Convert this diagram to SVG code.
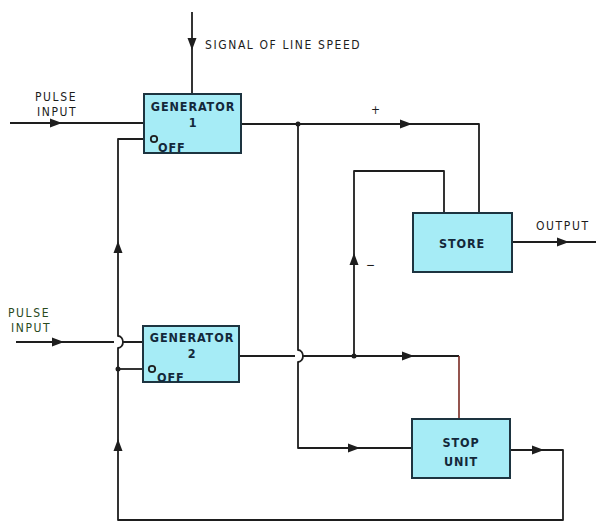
<svg xmlns="http://www.w3.org/2000/svg" width="596" height="524" viewBox="0 0 596 524">
<style>
.ln{fill:none;stroke:#1e1e1e;stroke-width:1.8;stroke-linejoin:round}
.box{fill:#a6ecf6;stroke:#1d3440;stroke-width:2}
.t{font-family:"DejaVu Sans Condensed","DejaVu Sans",sans-serif;font-stretch:condensed;font-size:12px;fill:#1c1c1c;letter-spacing:1.6px}
.bt{font-family:"DejaVu Sans Condensed","DejaVu Sans",sans-serif;font-stretch:condensed;font-weight:bold;font-size:12.5px;fill:#13283a;text-anchor:middle;letter-spacing:0.9px}
.ah{fill:#1e1e1e}
</style>
<defs>
<path id="ar" d="M-6,-4.5 L6,0 L-6,4.5 Z" class="ah"/>
</defs>
<rect width="596" height="524" fill="#fff"/>
<g id="connectors">
<path class="ln" d="M192,12 V94"/>
<use href="#ar" transform="translate(192,44) rotate(90)"/>
<path class="ln" d="M10,123 H144"/>
<use href="#ar" transform="translate(56,123)"/>
<path class="ln" d="M151,139 H118 V336 A5,6 0 0 1 118,348 V520 H563 V450 H510"/>
<use href="#ar" transform="translate(118,247) rotate(-90)"/>
<use href="#ar" transform="translate(118,445) rotate(-90)"/>
<use href="#ar" transform="translate(538,450)"/>
<path class="ln" d="M16,342 H114 M123,342 H143"/>
<use href="#ar" transform="translate(58,342)"/>
<path class="ln" d="M118,369 H149"/>
<circle cx="118" cy="369" r="2.5" class="ah"/>
<path class="ln" d="M241,124 H479 V213"/>
<use href="#ar" transform="translate(406,124)"/>
<circle cx="298" cy="124" r="2.5" class="ah"/>
<path class="ln" d="M298,124 V350 A5,6 0 0 1 298,362 V448 H412"/>
<use href="#ar" transform="translate(354,448)"/>
<path class="ln" d="M239,356 H295 M302,356 H459"/>
<path fill="none" stroke="#7a2a22" stroke-width="1.6" d="M459,356 V419"/>
<use href="#ar" transform="translate(408,356)"/>
<circle cx="354" cy="356" r="2.5" class="ah"/>
<path class="ln" d="M354,356 V171 H444 V213"/>
<use href="#ar" transform="translate(354,259) rotate(-90)"/>
<path class="ln" d="M512,242 H596"/>
<use href="#ar" transform="translate(563,242)"/>
</g>
<g id="gen1">
<rect class="box" x="144" y="94" width="97" height="59"/>
<text class="bt" x="193" y="111">GENERATOR</text>
<text class="bt" x="193" y="127">1</text>
<circle cx="154" cy="139" r="3.2" fill="#a6ecf6" stroke="#1e1e1e" stroke-width="1.8"/>
<text class="bt" x="158" y="152" style="text-anchor:start">OFF</text>
</g>
<g id="gen2">
<rect class="box" x="143" y="326" width="96" height="56"/>
<text class="bt" x="192" y="342">GENERATOR</text>
<text class="bt" x="192" y="358">2</text>
<circle cx="152" cy="369" r="3.2" fill="#a6ecf6" stroke="#1e1e1e" stroke-width="1.8"/>
<text class="bt" x="157" y="382" style="text-anchor:start">OFF</text>
</g>
<g id="store">
<rect class="box" x="413" y="213" width="99" height="59"/>
<text class="bt" x="462" y="248">STORE</text>
</g>
<g id="stop">
<rect class="box" x="412" y="419" width="98" height="59"/>
<text class="bt" x="461" y="447">STOP</text>
<text class="bt" x="461" y="466">UNIT</text>
</g>
<g id="labels">
<text class="t" x="205" y="49">SIGNAL OF LINE SPEED</text>
<text class="t" x="35" y="101">PULSE</text>
<text class="t" x="37" y="116">INPUT</text>
<text class="t" x="8" y="317" style="fill:#2a4a1e">PULSE</text>
<text class="t" x="11" y="332" style="fill:#2a4a1e">INPUT</text>
<text class="t" x="371" y="114">+</text>
<text class="t" x="366" y="269">−</text>
<text class="t" x="536" y="230">OUTPUT</text>
</g>
</svg>
